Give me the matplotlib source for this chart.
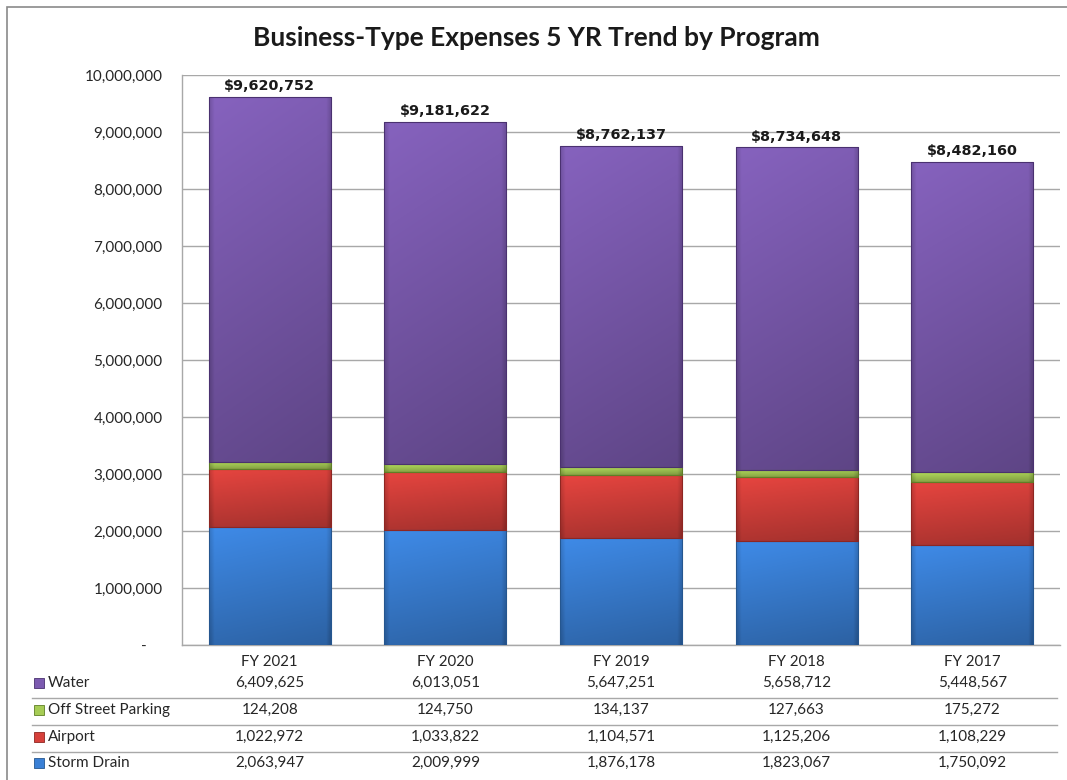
import numpy as np
import matplotlib
matplotlib.use('Agg')
import matplotlib.pyplot as plt
from matplotlib.colors import to_rgb
from matplotlib.patches import Rectangle
from matplotlib.lines import Line2D
from matplotlib.ticker import FuncFormatter
from matplotlib.transforms import blended_transform_factory

years = ['FY 2021', 'FY 2020', 'FY 2019', 'FY 2018', 'FY 2017']
storm_drain = [2063947, 2009999, 1876178, 1823067, 1750092]
airport = [1022972, 1033822, 1104571, 1125206, 1108229]
parking = [124208, 124750, 134137, 127663, 175272]
water = [6409625, 6013051, 5647251, 5658712, 5448567]
y_ticks = [0, 1000000, 2000000, 3000000, 4000000, 5000000,
           6000000, 7000000, 8000000, 9000000, 10000000]

# stacking order bottom -> top
series = [('Storm Drain', storm_drain, '#3a80d6', '#25568f'),
          ('Airport', airport, '#d6403b', '#8e2622'),
          ('Off Street Parking', parking, '#a6cc55', '#5f7f26'),
          ('Water', water, '#7c5bb0', '#4a3170')]

plt.rcParams['font.family'] = ['Lato', 'DejaVu Sans']
W, H = 1067, 780


def px_x(x):
    return x / W


def px_y(y):
    return 1 - y / H


def shade(ax, patch, color):
    # glossy excel-like gradient clipped to the bar
    x0, y0 = patch.get_x(), patch.get_y()
    w, h = patch.get_width(), patch.get_height()
    base = np.array(to_rgb(color))
    t = np.linspace(0, 1, 64)[:, None]
    s = np.linspace(0, 1, 32)[None, :]
    f = 1.08 - 0.26 * t - 0.06 * s
    edge = np.minimum(s, 1 - s)
    f = f - 0.12 * (edge < 0.03)
    img = np.clip(base[None, None, :] * f[..., None], 0, 1)
    im = ax.imshow(img, extent=(x0, x0 + w, y0, y0 + h), aspect='auto',
                   origin='upper', interpolation='bilinear',
                   zorder=patch.get_zorder() - 0.1)
    im.set_clip_path(patch)


fig = plt.figure(figsize=(W / 100, H / 100), dpi=100)
ax = fig.add_axes([px_x(182), px_y(645), px_x(1060 - 182), (645 - 75) / H])

x = np.arange(len(years))
bottom = np.zeros(len(years))
for name, vals, color, edge in series:
    bars = ax.bar(x, vals, 0.695, bottom=bottom, color=color,
                  edgecolor=edge, linewidth=0.8, zorder=3)
    for b in bars:
        shade(ax, b, color)
        b.set_facecolor('none')
    bottom += np.array(vals)

totals = bottom
for i, tot in enumerate(totals):
    ax.annotate(f'${int(tot):,}', (x[i], tot), xytext=(0, 2.5),
                textcoords='offset points', ha='center', va='bottom',
                fontsize=10.4, fontweight='bold', family='DejaVu Sans',
                color='#1a1a1a')

ax.set_xlim(-0.5, len(years) - 0.5)
ax.set_ylim(0, 10000000)
ax.set_yticks(y_ticks)
ax.yaxis.set_major_formatter(FuncFormatter(
    lambda v, p: '-    ' if v == 0 else f'{int(v):,}'))
ax.set_xticks(x)
ax.set_xticklabels(years)
ax.tick_params(axis='y', length=0, pad=14, labelsize=11, labelcolor='#262626')
ax.tick_params(axis='x', length=0, pad=7, labelsize=10.8, labelcolor='#262626')
ax.grid(axis='y', color='#a8a8a8', linewidth=1, zorder=0)
ax.set_axisbelow(True)
for side in ['top', 'right']:
    ax.spines[side].set_visible(False)
for side in ['left', 'bottom']:
    ax.spines[side].set_color('#a8a8a8')
    ax.spines[side].set_linewidth(1)

fig.text(px_x(536), px_y(38), 'Business-Type Expenses 5 YR Trend by Program',
         ha='center', va='center', fontsize=19, fontweight='bold',
         color='#1a1a1a')

# data table under the axis
tr = blended_transform_factory(ax.transData, fig.transFigure)
row_y = [683, 710, 737, 763]
for (name, vals, color, edge), yp in zip(series[::-1], row_y):
    fig.patches.append(Rectangle((px_x(34), px_y(yp + 5)), px_x(10), 10 / H,
                                 transform=fig.transFigure, facecolor=color,
                                 edgecolor=edge, linewidth=0.6))
    fig.text(px_x(48), px_y(yp), name, ha='left', va='center',
             fontsize=11, color='#262626')
    for i, v in enumerate(vals):
        ax.text(x[i], px_y(yp), f'{v:,}', transform=tr, ha='center',
                va='center', fontsize=11, color='#262626', clip_on=False)

for yp in [698, 725, 752]:
    fig.add_artist(Line2D([px_x(32), px_x(1057)], [px_y(yp), px_y(yp)],
                          color='#a8a8a8', linewidth=1))

fig.patches.append(Rectangle((px_x(7), -0.05), 1.2, px_y(7) + 0.05,
                             transform=fig.transFigure, fill=False,
                             edgecolor='#8a8a8a', linewidth=1.2))

fig.savefig('out.png', dpi=100, facecolor='white')
